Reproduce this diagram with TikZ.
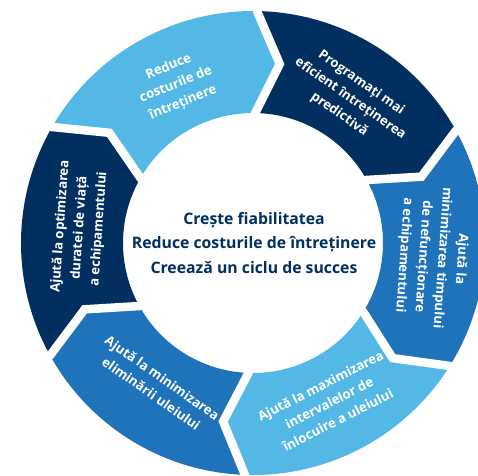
\documentclass[tikz,border=0pt]{standalone}
\usepackage{fontspec}
\setmainfont{Open Sans}
\definecolor{segLight}{RGB}{84,184,230}
\definecolor{segNavy}{RGB}{0,47,96}
\definecolor{segMid}{RGB}{30,115,187}
\begin{document}
\begin{tikzpicture}[x=1pt,y=1pt,
  gapline/.style={draw=white,line width=8.5pt,line join=miter},
  segtext/.style={text=white,font=\bfseries\fontsize{13.1}{19.2}\selectfont,align=center,inner sep=0pt},
  midtext/.style={text=segNavy,font=\bfseries\fontsize{15.8}{24.5}\selectfont,align=center,inner sep=0pt}]
\useasboundingbox (0,0) rectangle (478,475);
\clip (0,0) rectangle (478,475);
\begin{scope}[shift={(253,232)}]
  \def\Rout{232}\def\Rin{130}\def\Rmid{181}\def\tipd{7.5}
  % segment: colour, ccw-end angle, cw-end angle
  \newcommand\ringseg[3]{%
    \fill[#1] (#2:\Rout) arc[start angle=#2,end angle=#3,radius=\Rout]
      -- (#3-\tipd:\Rmid) -- (#3:\Rin)
      arc[start angle=#3,end angle=#2,radius=\Rin]
      -- (#2-\tipd:\Rmid) -- cycle;}
  \ringseg{segLight}{150}{89}
  \ringseg{segNavy}{89}{29}
  \ringseg{segMid}{29}{-32}
  \ringseg{segLight}{-32}{-92}
  \ringseg{segMid}{-92}{-151}
  \ringseg{segNavy}{209}{150}
  \foreach \b in {150,89,29,-32,-92,-151}{
    \draw[gapline] (\b:\Rout+12) -- (\b:\Rout) -- (\b-\tipd:\Rmid) -- (\b:\Rin) -- (\b:\Rin-12);
  }
  \node[segtext,rotate=22] (t1) at (116:176) {Reduce\\costurile de\\întreținere};
  \node[segtext,rotate=-35] (t2) at (56:174) {Programați mai\\eficient întreținerea\\predictivă};
  \node[segtext,rotate=-94] (t3) at (-4.5:180) {Ajută la\\minimizarea timpului\\de nefuncționare\\a echipamentului};
  \node[segtext,rotate=27] (t4) at (-64.5:177) {Ajută la maximizarea\\intervalelor de\\înlocuire a uleiului};
  \node[segtext,rotate=-35] (t5) at (-124:172) {Ajută la minimizarea\\eliminării uleiului};
  \node[segtext,rotate=86] (t6) at (175:174) {Ajută la optimizarea\\duratei de viață\\a echipamentului};
  \node[midtext] (c) at (1,0) {Crește fiabilitatea\\Reduce costurile de întreținere\\Creează un ciclu de succes};
\end{scope}
\end{tikzpicture}
\end{document}
